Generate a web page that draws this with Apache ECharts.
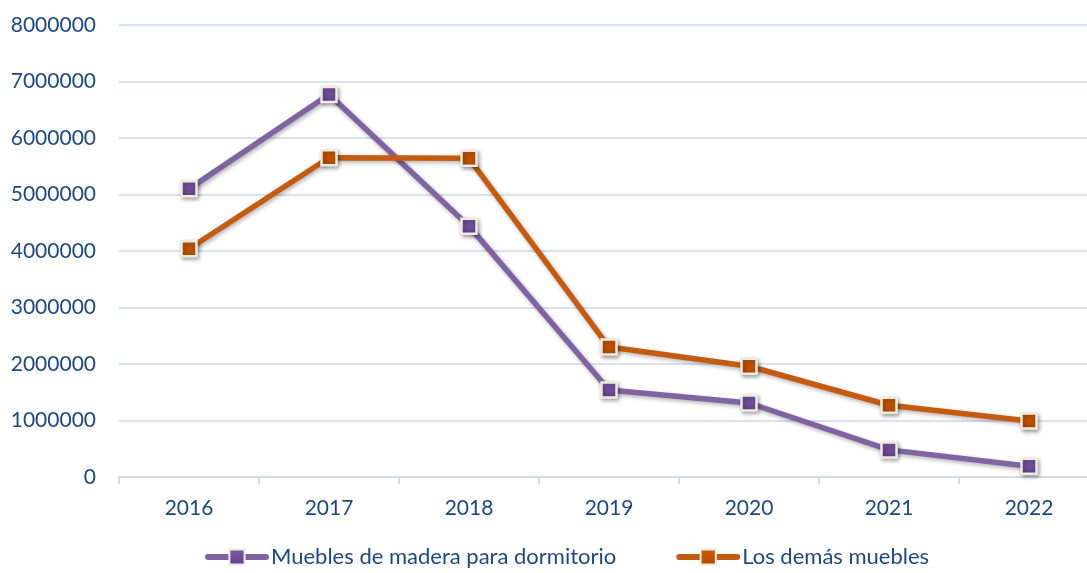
<!DOCTYPE html>
<html>
<head>
<meta charset="utf-8">
<script src="https://cdn.jsdelivr.net/npm/echarts@6/dist/echarts.min.js"></script>
<style>
html,body{margin:0;padding:0;background:#fff;}
#chart{width:1087px;height:573px;}
</style>
</head>
<body>
<div id="chart"></div>
<script>
const categories = ['2016','2017','2018','2019','2020','2021','2022'];
const seriesNames = ['Muebles de madera para dormitorio','Los demás muebles'];
const dormitorio = [5100000, 6770000, 4440000, 1540000, 1310000, 480000, 190000];
const demas = [4040000, 5650000, 5640000, 2300000, 1960000, 1270000, 990000];

const textColor = '#1F497D';
const font = 'Lato';

function mkSeries(name, data, lineColor, fillTop, fillBot) {
  return {
    name: name,
    type: 'line',
    data: data,
    symbol: 'rect',
    symbolSize: 15,
    lineStyle: {
      color: lineColor, width: 5.5,
      shadowColor: 'rgba(0,0,0,0.3)', shadowBlur: 4, shadowOffsetX: 1.5, shadowOffsetY: 2
    },
    itemStyle: {
      color: new echarts.graphic.LinearGradient(0,0,0,1,[{offset:0,color:fillTop},{offset:1,color:fillBot}]),
      borderColor: '#EEECE1', borderWidth: 2.5,
      shadowColor: 'rgba(0,0,0,0.35)', shadowBlur: 4, shadowOffsetX: 1.5, shadowOffsetY: 2
    },
    emphasis: { disabled: true }
  };
}

const chart = echarts.init(document.getElementById('chart'));
chart.setOption({
  animation: false,
  grid: { left: 119, width: 980, top: 25, bottom: 96, outerBoundsMode: 'none', containLabel: false },
  legend: {
    bottom: 0,
    left: 200,
    itemWidth: 58,
    itemHeight: 19,
    itemGap: 60,
    lineStyle: { width: 6, cap: 'round' },
    textStyle: { color: textColor, fontFamily: font, fontSize: 22 },
    data: seriesNames
  },
  xAxis: {
    type: 'category',
    data: categories,
    boundaryGap: true,
    axisLine: { lineStyle: { color: '#D0DDF0', width: 2 } },
    axisTick: { show: true, length: 7, lineStyle: { color: '#D0DDF0', width: 2 } },
    axisLabel: { color: textColor, fontFamily: font, fontSize: 21, margin: 21 }
  },
  yAxis: {
    type: 'value',
    min: 0, max: 8000000, interval: 1000000,
    axisLine: { show: false },
    axisTick: { show: false },
    axisLabel: { color: textColor, fontFamily: font, fontSize: 21, margin: 23, formatter: function (v) { return String(v); } },
    splitLine: { lineStyle: { color: '#D6E3F3', width: 2 } }
  },
  series: [
    mkSeries(seriesNames[0], dormitorio, '#8064A2', '#7E5BAA', '#5F3F8C'),
    mkSeries(seriesNames[1], demas, '#C55A11', '#D05A05', '#B04800')
  ]
});
</script>
</body>
</html>
